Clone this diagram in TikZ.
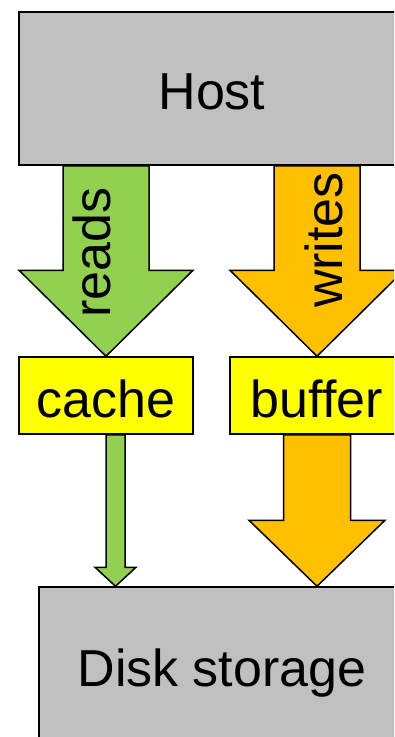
\documentclass[tikz,border=0pt]{standalone}
\usepackage{fontspec}
\setmainfont{Liberation Sans}
\usetikzlibrary{calc}
\definecolor{boxgray}{HTML}{C0C0C0}
\definecolor{readgreen}{HTML}{92D050}
\definecolor{writeorange}{HTML}{FFC000}
\definecolor{memyellow}{HTML}{FFFF00}
\tikzset{
  every node/.style={font=\fontsize{52}{58}\selectfont, inner sep=0pt},
  blockbox/.style={draw=black, line width=1.5pt, rectangle},
  unitbox/.style={blockbox, fill=boxgray},
  membox/.style={blockbox, fill=memyellow, minimum width=174pt, minimum height=77pt,
    text height=43pt, text depth=0pt},
  flowlabel/.style={rotate=90, anchor=base},
  arrowbody/.style={draw=black, line width=1.5pt, line join=miter}
}
% block arrow: fill, top point, tip point, shaft half-width, head half-width, head length
\newcommand\blockarrow[6]{%
  \path[arrowbody, fill=#1]
    ($(#2)+(-#4,0)$) -- ($(#3)+(-#4,-#6)$) -- ($(#3)+(-#5,-#6)$) -- (#3)
    -- ($(#3)+(#5,-#6)$) -- ($(#3)+(#4,-#6)$) -- ($(#2)+(#4,0)$) -- cycle;}
\begin{document}
\begin{tikzpicture}[x=1pt, y=-1pt]
  \useasboundingbox (0,0) rectangle (394,737);
  \clip (0,0) rectangle (394,737);
  \fill[white] (0,0) rectangle (394,737);

  \node[unitbox, minimum width=386pt, minimum height=153pt,
        text height=41pt, text depth=0pt] (host) at (212,88.5) {Host};
  \node[membox] (cache)  at (106,395.5) {cache};
  \node[membox] (buffer) at (317,395.5) {buffer};
  \node[unitbox, minimum width=366pt, minimum height=170pt,
        text height=36pt, text depth=0pt] (disk) at (222,672) {};
  \node (disklabel) at (222,668) [anchor=center, text height=36pt, text depth=0pt] {Disk storage};

  % upper arrows from the host
  \coordinate (rtop) at (host.south -| cache.north);
  \coordinate (wtop) at (host.south -| buffer.north);
  \blockarrow{readgreen}{rtop}{cache.north}{43}{87}{86}
  \blockarrow{writeorange}{wtop}{buffer.north}{43}{87}{86}
  \node[flowlabel] (reads)  at (110,252.5) {reads};
  \node[flowlabel] (writes) at (342,240) {writes};

  % lower arrows down to the disk
  \coordinate (ctop) at ($(cache.south)+(9.5,0)$);
  \coordinate (ctip) at (disk.north -| ctop);
  \coordinate (btip) at (disk.north -| buffer.south);
  \blockarrow{readgreen}{ctop}{ctip}{9.5}{20.5}{19}
  \blockarrow{writeorange}{buffer.south}{btip}{33.5}{68}{66}
\end{tikzpicture}
\end{document}
